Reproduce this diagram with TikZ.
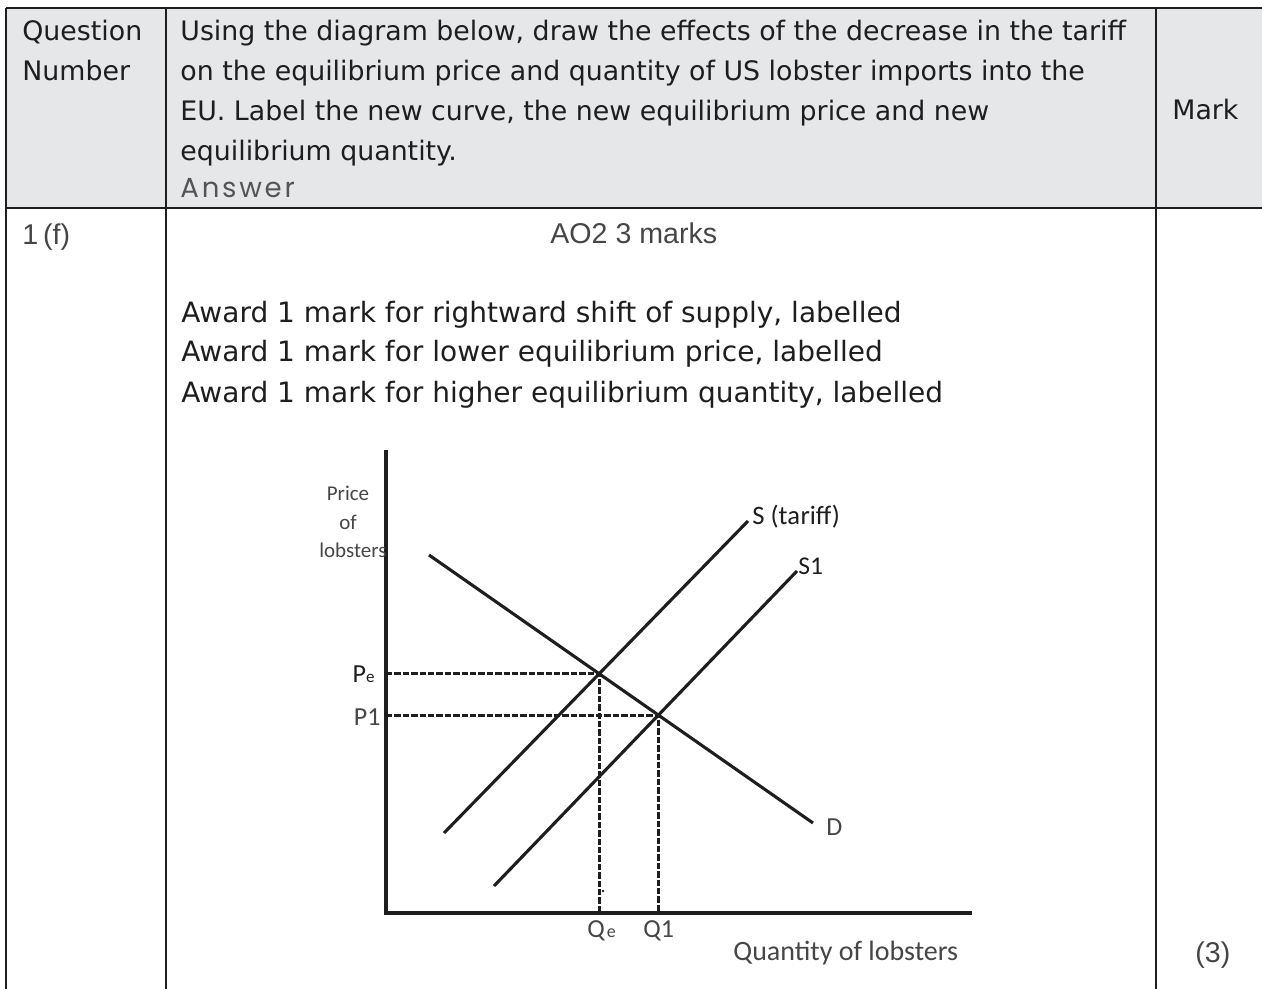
\documentclass[tikz,border=0pt]{standalone}
\usepackage{fontspec}
\setmainfont{DejaVu Sans}
\newfontfamily\carl{Carlito}
\newfontfamily\lib{Liberation Sans}
\newfontfamily\pop[LetterSpace=10]{Poppins}
\definecolor{hdr}{RGB}{230,231,233}
\definecolor{ink}{RGB}{30,30,30}
\definecolor{grayink}{RGB}{70,70,70}
\definecolor{lightink}{RGB}{85,85,85}
\tikzset{
  grid/.style={draw=ink, line width=1.3pt},
  txt/.style={inner sep=0pt, anchor=base west, text=ink},
  hdrtxt/.style={txt, font=\fontsize{13.4pt}{16pt}\selectfont},
  awdtxt/.style={txt, font=\fontsize{14pt}{16pt}\selectfont},
  lighttxt/.style={txt, text=grayink, font=\lib\fontsize{14.3pt}{16pt}\selectfont},
  axis/.style={draw=ink, line width=1.7pt},
  curve/.style={draw=ink, line width=1.55pt},
  guide/.style={draw=ink, line width=1.6pt, dash pattern=on 3.2pt off 1pt},
  lbl/.style={inner sep=0pt, text=grayink, font=\carl\fontsize{10.5pt}{12pt}\selectfont},
  clbl/.style={inner sep=0pt, anchor=west, text=ink, font=\carl\fontsize{13.3pt}{15pt}\selectfont}
}
\begin{document}
\begin{tikzpicture}[x=0.5pt,y=-0.5pt]
\useasboundingbox (0,0) rectangle (1262,989);
% table
\fill[hdr] (6,8) rectangle (1262,208);
\draw[grid] (6,8) -- (1262,8);
\draw[grid] (6,208) -- (1262,208);
\draw[grid] (6,8) -- (6,989);
\draw[grid] (166,8) -- (166,989);
\draw[grid] (1156,8) -- (1156,989);
% header text
\node[hdrtxt] (hq) at (22,41) {Question};
\node[hdrtxt] (hn) at (22,81) {Number};
\node[hdrtxt] (h1) at (180,41) {Using the diagram below, draw the effects of the decrease in the tariff};
\node[hdrtxt] (h2) at (180,81) {on the equilibrium price and quantity of US lobster imports into the};
\node[hdrtxt] (h3) at (180,121) {EU. Label the new curve, the new equilibrium price and new};
\node[hdrtxt] (h4) at (180,161) {equilibrium quantity.};
\node[txt, text=lightink, font=\pop\fontsize{13.8pt}{15pt}\selectfont] (ans) at (180,198) {Answer};
\node[hdrtxt] (mark) at (1172,120) {Mark};
% body text
\node[lighttxt] (qn) at (22,245) {1\,(f)};
\node[lighttxt] (ao) at (550,244) {AO2 3 marks};
\node[awdtxt] (a1) at (181,322) {Award 1 mark for rightward shift of supply, labelled};
\node[awdtxt] (a2) at (181,362) {Award 1 mark for lower equilibrium price, labelled};
\node[awdtxt] (a3) at (181,402) {Award 1 mark for higher equilibrium quantity, labelled};
\node[lighttxt] (three) at (1195,962) {(3)};
% diagram
\coordinate (O) at (386,913);
\coordinate (Ytop) at (386,450);
\coordinate (Xend) at (972,913);
\coordinate (Da) at (429,555);
\coordinate (Db) at (813,823);
\coordinate (Ta) at (444,833);
\coordinate (Tb) at (748,521);
\coordinate (Sa) at (494,886);
\coordinate (Sb) at (797,571);
\coordinate (E0) at (intersection of Da--Db and Ta--Tb);
\coordinate (E1) at (intersection of Da--Db and Sa--Sb);
\draw[guide] (E0 -| O) -- (E0) -- (E0 |- O);
\draw[guide] (E1 -| O) -- (E1) -- (E1 |- O);
\draw[curve] (Da) -- (Db);
\draw[curve] (Ta) -- (Tb);
\draw[curve] (Sa) -- (Sb);
\draw[axis] (Ytop) -- (O) -- (Xend);
\fill[ink] (603,891) circle (1.3);
% labels
\node[lbl] (lp1) at (348,493) {Price};
\node[lbl] (lp2) at (348,522) {of};
\node[lbl, anchor=east] (lp3) at (387,550) {lobsters};
\node[clbl] (lt) at (752,517) {S (ta\hspace{0.3pt}riff)};
\node[clbl, font=\carl\fontsize{12.8pt}{14pt}\selectfont] (ls) at (798,566) {S1};
\node[clbl, font=\carl\fontsize{13pt}{15pt}\selectfont, text=grayink] (ld) at (826,827) {D};
\node[inner sep=0pt, anchor=east, text=ink, font=\carl\fontsize{13pt}{15pt}\selectfont] (lpe) at (375,674) {P{\fontsize{8.5pt}{9pt}\selectfont e}};
\node[inner sep=0pt, anchor=east, text=grayink, font=\carl\fontsize{13pt}{15pt}\selectfont] (lp1b) at (381,717) {P1};
\node[inner sep=0pt, anchor=base west, text=grayink, font=\carl\fontsize{13pt}{14pt}\selectfont] (lqe) at (587,937) {Q\hspace{1pt}{\fontsize{9pt}{9pt}\selectfont e}};
\node[inner sep=0pt, anchor=base west, text=grayink, font=\carl\fontsize{13pt}{14pt}\selectfont] (lq1) at (643,937) {Q1};
\node[inner sep=0pt, anchor=base west, text=grayink, font=\carl\fontsize{14pt}{15pt}\selectfont] (lqty) at (733,960) {Quantity of lobsters};
\end{tikzpicture}
\end{document}
